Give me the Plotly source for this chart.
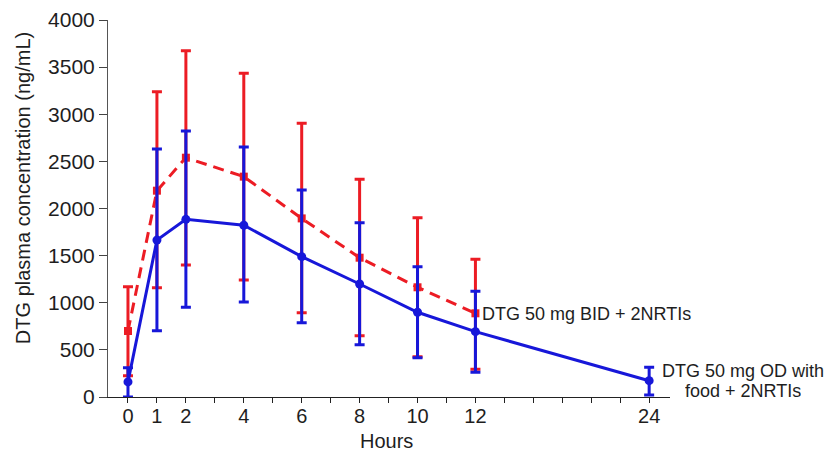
import plotly.graph_objects as go

# ---- data ----
od_hours = [0, 1, 2, 4, 6, 8, 10, 12, 24]
od_mean = [160, 1665, 1885, 1822, 1489, 1199, 899, 693, 173]
od_upper = [311, 2631, 2822, 2653, 2196, 1849, 1382, 1121, 315]
od_lower = [0, 703, 952, 1008, 788, 555, 417, 262, 21]

bid_hours = [0, 1, 2, 4, 6, 8, 10, 12]
bid_mean = [700, 2189, 2539, 2338, 1895, 1478, 1164, 888]
bid_upper = [1170, 3240, 3674, 3434, 2904, 2310, 1902, 1461]
bid_lower = [226, 1160, 1400, 1241, 895, 650, 426, 294]

tick_hours = [0, 1, 2, 3, 4, 5, 6, 7, 8, 9, 10, 11, 12, 14, 16, 18, 20, 22, 24]
tick_labels = ["0", "1", "2", "", "4", "", "6", "", "8", "", "10", "", "12",
               "", "", "", "", "", "24"]
y_ticks = [0, 500, 1000, 1500, 2000, 2500, 3000, 3500, 4000]

label_bid = "DTG 50 mg BID + 2NRTIs"
label_od_1 = "DTG 50 mg OD with"
label_od_2 = "food + 2NRTIs"


# piecewise time axis: 1 unit per hour up to 12 h, then half a unit per hour
def pos(h):
    return h if h <= 12 else 12 + (h - 12) / 2


RED = "#ec1c24"
BLUE = "#1717d9"
FONT = "Liberation Sans, Arial, sans-serif"
TXT = "#1e1e1e"

fig = go.Figure()

fig.add_trace(go.Scatter(
    x=[pos(h) for h in bid_hours], y=bid_mean, mode="lines+markers",
    line=dict(color=RED, width=3, dash="11px,7px"),
    marker=dict(symbol="square", size=8, color=RED),
    error_y=dict(type="data", symmetric=False,
                 array=[u - m for u, m in zip(bid_upper, bid_mean)],
                 arrayminus=[m - l for m, l in zip(bid_mean, bid_lower)],
                 color=RED, thickness=3, width=5),
    showlegend=False, cliponaxis=False,
))

fig.add_trace(go.Scatter(
    x=[pos(h) for h in od_hours], y=od_mean, mode="lines+markers",
    line=dict(color=BLUE, width=3),
    marker=dict(symbol="circle", size=9, color=BLUE),
    error_y=dict(type="data", symmetric=False,
                 array=[u - m for u, m in zip(od_upper, od_mean)],
                 arrayminus=[m - l for m, l in zip(od_mean, od_lower)],
                 color=BLUE, thickness=3, width=5),
    showlegend=False, cliponaxis=False,
))

fig.add_annotation(x=pos(bid_hours[-1]), y=bid_mean[-1], xref="x", yref="y",
                   text=label_bid, showarrow=False, xanchor="left",
                   xshift=5, yshift=-1,
                   font=dict(family=FONT, size=18, color=TXT))
fig.add_annotation(x=pos(od_hours[-1]), y=od_mean[-1], xref="x", yref="y",
                   text=label_od_1, showarrow=False, xanchor="center",
                   xshift=94, yshift=10, height=20,
                   font=dict(family=FONT, size=18, color=TXT))
fig.add_annotation(x=pos(od_hours[-1]), y=od_mean[-1], xref="x", yref="y",
                   text=label_od_2, showarrow=False, xanchor="center",
                   xshift=94, yshift=-10, height=20,
                   font=dict(family=FONT, size=18, color=TXT))

fig.add_annotation(x=0, y=0.554, xref="paper", yref="paper",
                   text="DTG plasma concentration (ng/mL)", textangle=-90,
                   showarrow=False, xanchor="center", yanchor="middle",
                   xshift=-85,
                   font=dict(family=FONT, size=20, color=TXT))

fig.add_annotation(x=0.495, y=0, xref="paper", yref="paper",
                   text="Hours", showarrow=False, xanchor="center",
                   yanchor="middle", yshift=-44,
                   font=dict(family=FONT, size=20, color=TXT))

fig.update_xaxes(
    range=[-0.69, 18.72], automargin=False,
    tickvals=[pos(h) for h in tick_hours], ticktext=tick_labels,
    ticks="outside", ticklen=5, tickwidth=1, tickcolor="#222",
    ticklabelstandoff=-4,
    showline=True, linecolor="#222", linewidth=1,
    showgrid=False, zeroline=False,
    tickfont=dict(family=FONT, size=20, color=TXT),
)
fig.update_yaxes(
    range=[0, 4000], tickvals=y_ticks, automargin=False,
    ticks="outside", ticklen=8, tickwidth=1, tickcolor="#444",
    showline=True, linecolor="#555", linewidth=1,
    showgrid=False, zeroline=False,
    tickfont=dict(family=FONT, size=21, color=TXT),
)

fig.update_layout(
    width=828, height=455,
    margin=dict(l=108, r=158, t=20, b=58),
    plot_bgcolor="white", paper_bgcolor="white",
    font=dict(family=FONT, color=TXT),
)

fig.write_html("out.html")
